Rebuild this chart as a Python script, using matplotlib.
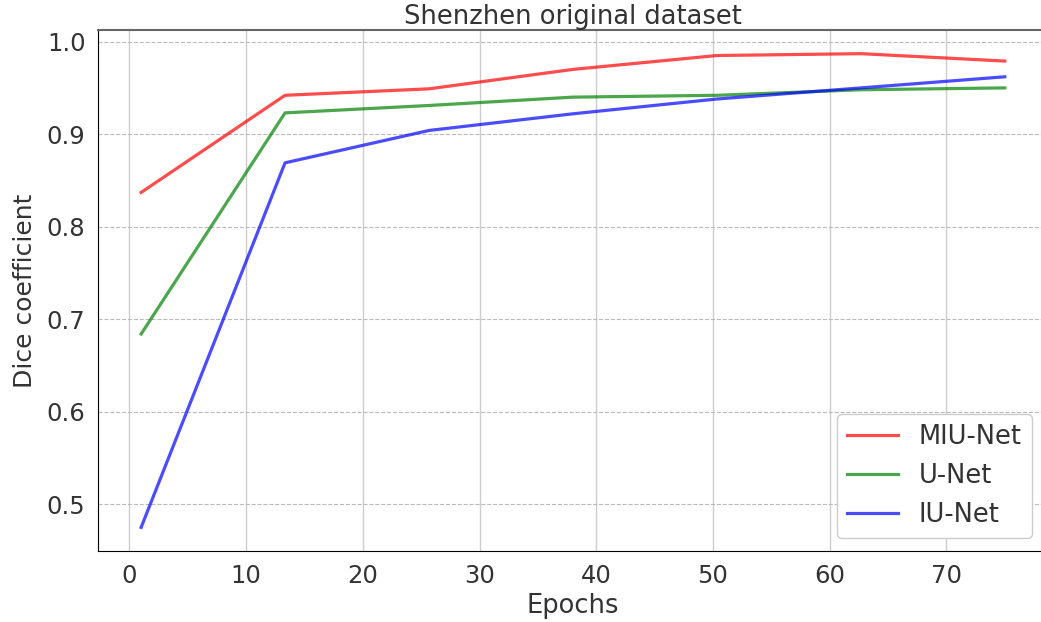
import numpy as np
import matplotlib
matplotlib.use('Agg')
import matplotlib.pyplot as plt

epochs = [1, 13.33, 25.67, 38, 50.33, 62.67, 75]
miu_net = [0.837, 0.942, 0.949, 0.970, 0.985, 0.987, 0.979]
u_net = [0.684, 0.923, 0.931, 0.940, 0.942, 0.948, 0.950]
iu_net = [0.475, 0.869, 0.904, 0.922, 0.938, 0.950, 0.962]

fig = plt.figure(figsize=(10.41, 6.22), dpi=100)
ax = fig.add_axes([0.0941, 0.1141, 0.9126, 0.8377])

ax.plot(epochs, miu_net, color='r', alpha=0.7, lw=2.3, label='MIU-Net')
ax.plot(epochs, u_net, color='g', alpha=0.7, lw=2.3, label='U-Net')
ax.plot(epochs, iu_net, color='b', alpha=0.7, lw=2.3, label='IU-Net')

ax.grid(axis='x', color='#cccccc', linestyle='-', linewidth=1)
ax.grid(axis='y', color='#bbbbbb', linestyle='--', linewidth=0.8)
ax.tick_params(length=0, labelsize=17.5, labelcolor='#333333', pad=9)

ax.set_title('Shenzhen original dataset', fontsize=18.5, color='#333333', pad=2)
ax.set_xlabel('Epochs', fontsize=18.5, color='#333333')
ax.set_ylabel('Dice coefficient', fontsize=18, color='#333333', labelpad=7)

ax.spines['top'].set_color('#666666')
ax.spines['top'].set_linewidth(1.5)
ax.spines['right'].set_visible(False)

leg = ax.legend(loc='lower right', fontsize=18.5, framealpha=1, edgecolor='#cccccc',
                bbox_to_anchor=(0.997, 0.0))
for t in leg.get_texts():
    t.set_color('#333333')

fig.savefig('out.png', dpi=100)
